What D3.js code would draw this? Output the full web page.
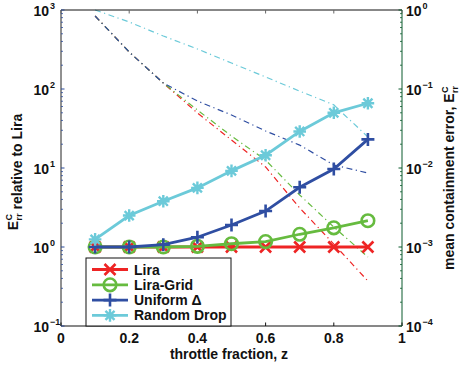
<!DOCTYPE html>
<html><head><meta charset="utf-8">
<script src="https://cdn.jsdelivr.net/npm/d3@7"></script>
<style>body{margin:0;background:#fff} text{font-family:"Liberation Sans",Arial,sans-serif;font-weight:bold;fill:#111}</style>
</head><body><svg id="c" width="459" height="368"></svg>
<script>
// ---- data ----
const zValues = [0.1, 0.2, 0.3, 0.4, 0.5, 0.6, 0.7, 0.8, 0.9];
const seriesNames = ["Lira", "Lira-Grid", "Uniform \u0394", "Random Drop"];
// E_rr^C relative to Lira (left axis)
const liraRel      = [1, 1, 1, 1, 1, 1, 1, 1, 1];
const liraGridRel  = [1, 1, 1, 1.02, 1.1, 1.17, 1.45, 1.75, 2.15];
const uniformRel   = [1, 1, 1.07, 1.33, 1.9, 2.85, 5.7, 9.7, 23];
const randomRel    = [1.25, 2.5, 3.8, 5.6, 9.2, 14.5, 29, 50, 66];
// mean containment error (right axis)
const liraErr      = [0.84, 0.294, 0.119, 0.0497, 0.0226, 0.0103, 0.00312, 0.00109, 0.000371];
const liraGridErr  = [0.84, 0.294, 0.119, 0.0542, 0.0254, 0.0126, 0.00455, 0.00179, 0.000747];
const uniformErr   = [0.84, 0.294, 0.119, 0.0705, 0.0469, 0.0294, 0.0195, 0.0109, 0.00865];
const randomErr    = [1.0, 0.705, 0.469, 0.321, 0.213, 0.142, 0.094, 0.063, 0.0247];
const xTicks = [0, 0.2, 0.4, 0.6, 0.8, 1];
const leftExps = [-1, 0, 1, 2, 3];
const rightExps = [-4, -3, -2, -1, 0];

// ---- layout ----
const L = 61, R = 402, T = 10, B = 326;
const colors = ["#ee2424", "#66bb3f", "#2f4ea2", "#6ccad9"];
const markers = ["x", "o", "+", "*"];
const relData = [liraRel, liraGridRel, uniformRel, randomRel];
const errData = [liraErr, liraGridErr, uniformErr, randomErr];

const svg = d3.select("#c");
const x = d3.scaleLinear().domain([0, 1]).range([L, R]);
const yL = d3.scaleLog().domain([0.1, 1000]).range([B, T]);
const yR = d3.scaleLog().domain([1e-4, 1]).range([B, T]);

// dash-dot lines (right axis)
const lineR = d3.line().x((d, i) => x(zValues[i])).y(d => yR(d));
errData.forEach((arr, k) => {
  svg.append("path").attr("d", lineR(arr)).attr("fill", "none")
    .attr("stroke", colors[k]).attr("stroke-width", 1.2)
    .attr("stroke-dasharray", "6,3.5,1.2,3.5");
});

// main lines (left axis)
const lineL = d3.line().x((d, i) => x(zValues[i])).y(d => yL(d));
function marker(g, type, cx, cy, col) {
  const s = 5.5;
  if (type === "x") {
    g.append("path").attr("d", `M${cx-s},${cy-s}L${cx+s},${cy+s}M${cx-s},${cy+s}L${cx+s},${cy-s}`)
      .attr("stroke", col).attr("stroke-width", 2.6).attr("fill", "none");
  } else if (type === "o") {
    g.append("circle").attr("cx", cx).attr("cy", cy).attr("r", 6.3)
      .attr("stroke", col).attr("stroke-width", 2.6).attr("fill", "none");
  } else if (type === "+") {
    const p = 6.5;
    g.append("path").attr("d", `M${cx-p},${cy}L${cx+p},${cy}M${cx},${cy-p}L${cx},${cy+p}`)
      .attr("stroke", col).attr("stroke-width", 2.6).attr("fill", "none");
  } else {
    const p = 6.3, q = p * 0.72;
    g.append("path").attr("d", `M${cx-p},${cy}L${cx+p},${cy}M${cx},${cy-p}L${cx},${cy+p}M${cx-q},${cy-q}L${cx+q},${cy+q}M${cx-q},${cy+q}L${cx+q},${cy-q}`)
      .attr("stroke", col).attr("stroke-width", 2.4).attr("fill", "none");
  }
}
relData.forEach((arr, k) => {
  const g = svg.append("g");
  g.append("path").attr("d", lineL(arr)).attr("fill", "none")
    .attr("stroke", colors[k]).attr("stroke-width", 2.8);
  arr.forEach((v, i) => marker(g, markers[k], x(zValues[i]), yL(v), colors[k]));
});

// ---- axes ----
const leftCol = "#2a4a9a", rightCol = "#0b5a2c";
svg.append("line").attr("x1", L).attr("x2", R).attr("y1", T).attr("y2", T).attr("stroke", "#111");
svg.append("line").attr("x1", L).attr("x2", R).attr("y1", B).attr("y2", B).attr("stroke", "#111");
svg.append("line").attr("x1", L).attr("x2", L).attr("y1", T).attr("y2", B).attr("stroke", "#222");
svg.append("line").attr("x1", R).attr("x2", R).attr("y1", T).attr("y2", B).attr("stroke", rightCol);

// x ticks
xTicks.forEach(t => {
  const px = x(t);
  svg.append("line").attr("x1", px).attr("x2", px).attr("y1", B).attr("y2", B - 3.5).attr("stroke", "#111");
  svg.append("line").attr("x1", px).attr("x2", px).attr("y1", T).attr("y2", T + 3.5).attr("stroke", "#666");
  svg.append("text").attr("x", px).attr("y", 343).attr("text-anchor", "middle")
    .attr("font-size", 14).text(d3.format("~g")(t));
});
svg.append("text").attr("x", 229).attr("y", 359).attr("text-anchor", "middle")
  .attr("font-size", 14).text("throttle fraction, z");

// log ticks
function logTicks(scale, exps, xpos, dir, col) {
  for (let e = exps[0]; e <= exps[exps.length - 1]; e++) {
    const base = Math.pow(10, e);
    svg.append("line").attr("x1", xpos).attr("x2", xpos + dir * 3.5)
      .attr("y1", scale(base)).attr("y2", scale(base)).attr("stroke", col);
    if (e < exps[exps.length - 1]) {
      for (let m = 2; m <= 9; m++) {
        const yy = scale(base * m);
        svg.append("line").attr("x1", xpos).attr("x2", xpos + dir * 2)
          .attr("y1", yy).attr("y2", yy).attr("stroke", col).attr("stroke-width", 0.8);
      }
    }
  }
}
logTicks(yL, leftExps, L, 1, leftCol);
logTicks(yR, rightExps, R, -1, rightCol);

function expLabel(xBase, yv, e, anchorEnd) {
  const t1 = svg.append("text").attr("font-size", 14).attr("y", yv + 5.5).text("10");
  if (anchorEnd) t1.attr("x", xBase).attr("text-anchor", "end");
  else t1.attr("x", xBase);
  const w = t1.node().getComputedTextLength();
  const ex = anchorEnd ? xBase + 1 : xBase + w + 1;
  svg.append("text").attr("font-size", 9).attr("x", ex).attr("y", yv - 1.5)
    .text(e < 0 ? "\u2212" + (-e) : String(e));
}
leftExps.forEach(e => expLabel(49, yL(Math.pow(10, e)), e, true));
rightExps.forEach(e => expLabel(406, yR(Math.pow(10, e)), e, false));

// axis titles
function eLabel(g) {
  g.append("tspan").text("E");
  g.append("tspan").attr("font-size", 9).attr("dy", -6.5).attr("dx", 0.5).text("C");
  g.append("tspan").attr("font-size", 9).attr("dy", 10.5).attr("dx", -6.5).text("rr");
  g.append("tspan").attr("dy", -4).text("");
}
const lt = svg.append("text").attr("font-size", 14).attr("text-anchor", "middle")
  .attr("transform", "translate(18,172) rotate(-90)");
eLabel(lt);
lt.append("tspan").text(" relative to Lira");

const rt = svg.append("text").attr("font-size", 14).attr("text-anchor", "middle")
  .attr("transform", "translate(454,178) rotate(-90)");
rt.append("tspan").text("mean containment error, ");
eLabel(rt);

// ---- legend ----
const lg = svg.append("g");
lg.append("rect").attr("x", 86).attr("y", 258).attr("width", 145).attr("height", 68)
  .attr("fill", "#fff").attr("stroke", "#111").attr("stroke-width", 1);
seriesNames.forEach((n, k) => {
  const yy = 269.5 + k * 15.3;
  lg.append("line").attr("x1", 92).attr("x2", 128).attr("y1", yy).attr("y2", yy)
    .attr("stroke", colors[k]).attr("stroke-width", 2.8);
  marker(lg, markers[k], 110, yy, colors[k]);
  lg.append("text").attr("x", 134).attr("y", yy + 5).attr("font-size", 14).text(n);
});
</script></body></html>
